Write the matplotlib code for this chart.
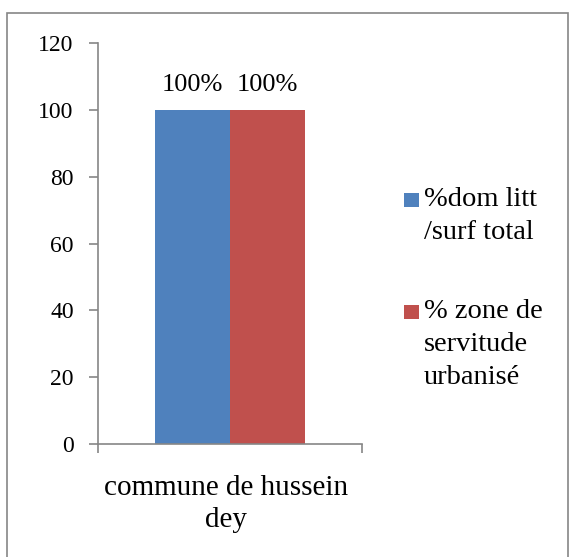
import matplotlib.pyplot as plt
import numpy as np

# data
categories = ["commune de hussein\ndey"]
series_names = ["%dom litt\n/surf total", "% zone de\nservitude\nurbanisé"]
series_values = [[100], [100]]
value_labels = [["100%"], ["100%"]]
colors = ["#4f81bd", "#c0504d"]
yticks = [0, 20, 40, 60, 80, 100, 120]

plt.rcParams["font.family"] = ["Liberation Serif", "DejaVu Serif"]
W, H = 570, 557


def lines_at(x0, y0, text, step, **kw):
    # draw multi-line text with the first baseline at pixel row y0
    for k, line in enumerate(text.split("\n")):
        fig.text(x0/W, 1-(y0 + k*step)/H, line, va="baseline", **kw)


fig = plt.figure(figsize=(5.7, 5.57), dpi=100)

# outer frame like the Excel chart area (bottom edge falls outside the picture)
fig.patches.append(plt.Rectangle((7/W, -10/H), 561/W, (H-13+10)/H, transform=fig.transFigure,
                                 fill=False, edgecolor="#868686", lw=1.2))

ax = fig.add_axes([98/W, 1-444/H, 264/W, 401/H])

x = np.arange(len(categories))
w = 0.285
offsets = [-w/2, w/2]
for i in range(len(series_values)):
    b = ax.bar(x + offsets[i], series_values[i], w, color=colors[i])
    for rect, lab in zip(b, value_labels[i]):
        ax.text(rect.get_x() + rect.get_width()/2, rect.get_height() + 5.6, lab,
                ha="center", va="baseline", fontsize=19)

ax.set_xlim(-0.5, 0.5)
ax.set_ylim(0, 120)
ax.set_yticks(yticks)
ax.set_yticklabels([str(t) for t in yticks], fontsize=17)
ax.set_xticks([-0.5, 0.5])
ax.set_xticklabels([])
lines_at(226, 495, categories[0], 32, ha="center", fontsize=21)

for s in ["top", "right"]:
    ax.spines[s].set_visible(False)
for s in ["left", "bottom"]:
    ax.spines[s].set_color("#868686")
    ax.spines[s].set_linewidth(1.2)
ax.tick_params(axis="both", color="#868686", width=1.2, length=6.5)
ax.tick_params(axis="y", pad=11)

# legend: square aligned with first text line
leg_y = [200, 312]
for name, col, yy in zip(series_names, colors, leg_y):
    fig.patches.append(plt.Rectangle((404/W, 1-(yy+7)/H), 15/W, 14/H, transform=fig.transFigure,
                                     facecolor=col, edgecolor="none"))
    lines_at(424, yy+6, name, 33, ha="left", fontsize=20.5)

fig.savefig("out.png", dpi=100)
